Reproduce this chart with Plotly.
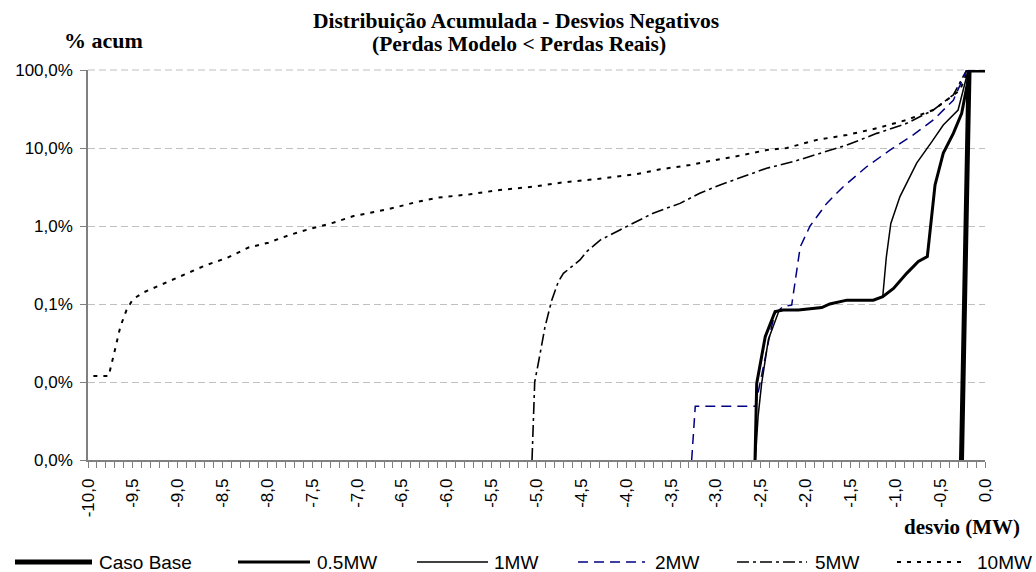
import plotly.graph_objects as go

# ---------------- data (values in %) ----------------
caso_x = [-0.262, -0.178, 0.0]
caso_y = [0.001, 100, 100]

mw05_x = [-2.564, -2.545, -2.45, -2.34, -2.25, -2.08, -1.82, -1.73, -1.54, -1.245, -1.14,
          -1.02, -0.873, -0.743, -0.643, -0.557, -0.465, -0.353, -0.26, -0.167, 0.0]
mw05_y = [0.001, 0.0096, 0.038, 0.08, 0.084, 0.084, 0.09, 0.1, 0.112, 0.112, 0.124,
          0.158, 0.247, 0.35, 0.405, 3.36, 8.6, 15.4, 27.8, 100, 100]

mw1_x = [-2.56, -2.53, -2.49, -2.415, -2.30, -2.25, -2.08, -1.82, -1.73, -1.54, -1.245, -1.14,
         -1.10, -1.05, -0.948, -0.762, -0.594, -0.465, -0.3, -0.186, 0.0]
mw1_y = [0.001, 0.0036, 0.0096, 0.035, 0.08, 0.084, 0.084, 0.09, 0.1, 0.112, 0.112, 0.124,
         0.4, 1.08, 2.38, 6.4, 12, 19.7, 30.7, 100, 100]

mw2_x = [-3.27, -3.23, -2.56, -2.51, -2.434, -2.38, -2.34, -2.25, -2.155, -2.118, -2.06, -1.95,
         -1.765, -1.58, -1.32, -1.06, -0.8, -0.576, -0.353, -0.204, 0.0]
mw2_y = [0.001, 0.0049, 0.0049, 0.0096, 0.0257, 0.051, 0.076, 0.093, 0.097, 0.18, 0.54, 1.0,
         1.95, 3.19, 5.75, 9.4, 14.7, 22.9, 41, 100, 100]

mw5_x = [-5.05, -5.02, -4.96, -4.905, -4.83, -4.757, -4.70, -4.515, -4.44, -4.29, -4.07, -3.846,
         -3.70, -3.40, -3.18, -2.954, -2.806, -2.434, -2.137, -1.80, -1.54, -1.207, -0.873,
         -0.576, -0.353, -0.204, 0.0]
mw5_y = [0.001, 0.01, 0.023, 0.051, 0.112, 0.193, 0.247, 0.367, 0.47, 0.66, 0.89, 1.19,
         1.46, 1.95, 2.63, 3.36, 3.89, 5.5, 6.69, 8.7, 10.9, 15.4, 20.7,
         30.7, 48, 100, 100]

mw10_x = [-9.94, -9.77, -9.70, -9.64, -9.57, -9.50, -9.38, -9.16, -8.92, -8.68, -8.45, -8.21,
          -7.99, -7.75, -7.525, -7.28, -7.04, -6.80, -6.58, -6.34, -6.10, -5.74, -5.41, -5.035,
          -4.70, -4.33, -4.105, -3.88, -3.62, -3.29, -3.07, -2.806, -2.434, -2.21, -1.876,
          -1.54, -1.207, -0.873, -0.576, -0.427, -0.28, -0.19, 0.0]
mw10_y = [0.0119, 0.0119, 0.0257, 0.051, 0.084, 0.115, 0.141, 0.18, 0.24, 0.316, 0.39, 0.53,
          0.61, 0.77, 0.92, 1.09, 1.34, 1.52, 1.72, 2.03, 2.31, 2.55, 2.9, 3.19,
          3.63, 4.0, 4.28, 4.64, 5.33, 6.05, 6.8, 7.7, 9.4, 10.0, 12.7,
          14.7, 17.9, 22.9, 30.7, 41, 55, 100, 100]

x_tickvals = [-10.0, -9.5, -9.0, -8.5, -8.0, -7.5, -7.0, -6.5, -6.0, -5.5, -5.0,
              -4.5, -4.0, -3.5, -3.0, -2.5, -2.0, -1.5, -1.0, -0.5, 0.0]
x_ticktext = ["-10,0", "-9,5", "-9,0", "-8,5", "-8,0", "-7,5", "-7,0", "-6,5", "-6,0", "-5,5", "-5,0",
              "-4,5", "-4,0", "-3,5", "-3,0", "-2,5", "-2,0", "-1,5", "-1,0", "-0,5", "0,0"]
y_tickvals = [100, 10, 1, 0.1, 0.01, 0.001]
y_ticktext = ["100,0%", "10,0%", "1,0%", "0,1%", "0,0%", "0,0%"]

series_names = ["Caso Base", "0.5MW", "1MW", "2MW", "5MW", "10MW"]

# ---------------- styles ----------------
styles = [
    dict(color="black", width=5, dash="solid"),
    dict(color="black", width=3, dash="solid"),
    dict(color="black", width=1.5, dash="solid"),
    dict(color="#000080", width=1.5, dash="10px,6px"),
    dict(color="black", width=1.6, dash="12px,4px,3px,4px"),
    dict(color="black", width=2, dash="4px,6px"),
]
xs = [caso_x, mw05_x, mw1_x, mw2_x, mw5_x, mw10_x]
ys = [caso_y, mw05_y, mw1_y, mw2_y, mw5_y, mw10_y]

fig = go.Figure()
order = [5, 4, 3, 2, 1, 0]
for i in order:
    fig.add_trace(go.Scatter(x=xs[i], y=ys[i], mode="lines", name=series_names[i],
                             line=styles[i], showlegend=False, hoverinfo="x+y+name"))

L, R, T, B = 88, 51, 70, 112
W, H = 1036, 572
pw, ph = W - L - R, H - T - B


def px_x(p):
    return (p - L) / pw


def px_y(p):
    return 1 - (p - T) / ph


serif = "Liberation Serif, Times New Roman, serif"
sans = "Liberation Sans, Arial, sans-serif"

annotations = [
    dict(text="<b>Distribuição Acumulada - Desvios Negativos</b>", x=px_x(516), y=px_y(21),
         font=dict(family=serif, size=21.5, color="black")),
    dict(text="<b>(Perdas Modelo &lt; Perdas Reais)</b>", x=px_x(519), y=px_y(44),
         font=dict(family=serif, size=21.5, color="black")),
    dict(text="<b>% acum</b>", x=px_x(103), y=px_y(40),
         font=dict(family=serif, size=22, color="black")),
    dict(text="<b>desvio (MW)</b>", x=px_x(1022), y=px_y(527), xanchor="right",
         font=dict(family=serif, size=21, color="black")),
]
for a in annotations:
    a.setdefault("xanchor", "center")
    a.update(xref="paper", yref="paper", yanchor="middle", showarrow=False)

# top (100%) gridline, which sits on the plot edge
shapes = [dict(type="line", xref="paper", yref="paper", x0=0, x1=1, y0=1, y1=1, layer="below",
               line=dict(color="#c0c0c0", width=1.2, dash="7px,4px"))]

# custom legend (long line samples like the original)
leg_y = px_y(562)
leg_pos = [(15, 92, 97), (238, 310, 315), (417, 488, 492), (578, 645, 653), (737, 807, 813), (897, 963, 975)]
for i, (a, b, t) in enumerate(leg_pos):
    st = styles[i]
    shapes.append(dict(type="line", xref="paper", yref="paper", x0=px_x(a), x1=px_x(b),
                       y0=leg_y, y1=leg_y,
                       line=dict(color=st["color"], width=st["width"], dash=st["dash"])))
    annotations.append(dict(text=series_names[i], xref="paper", yref="paper", x=px_x(t), y=leg_y,
                            xanchor="left", yanchor="middle", showarrow=False,
                            font=dict(family=sans, size=19, color="black")))

fig.update_layout(
    width=W, height=H,
    margin=dict(l=L, r=R, t=T, b=B),
    paper_bgcolor="white", plot_bgcolor="white",
    showlegend=False,
    annotations=annotations,
    shapes=shapes,
    xaxis=dict(
        range=[-10, 0], tickmode="array", tickvals=x_tickvals, ticktext=x_ticktext,
        tickangle=-90, tickfont=dict(family=sans, size=17, color="black"),
        ticklabelstandoff=4,
        showgrid=False, zeroline=False,
        showline=True, linecolor="#808080", linewidth=1.5,
        ticks="outside", ticklen=6, tickcolor="#808080", tickwidth=1,
        minor=dict(dtick=0.1, ticks="outside", ticklen=6, tickcolor="#808080", tickwidth=1, showgrid=False),
    ),
    yaxis=dict(
        type="log", range=[-3, 2], tickmode="array", tickvals=y_tickvals, ticktext=y_ticktext,
        tickfont=dict(family=sans, size=17, color="black"),
        ticklabelstandoff=4,
        showgrid=True, gridcolor="#c0c0c0", gridwidth=1, griddash="7px,4px",
        zeroline=False, showline=True, linecolor="#808080", linewidth=1.5,
        ticks="outside", ticklen=6, tickcolor="#808080", tickwidth=1,
    ),
)

fig.write_html("out.html")
